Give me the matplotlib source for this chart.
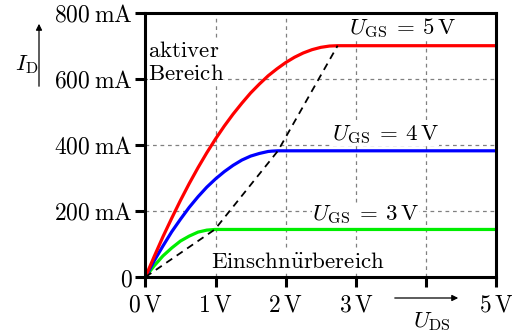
import matplotlib
matplotlib.use("Agg")
import matplotlib.pyplot as plt

plt.rcParams['mathtext.fontset'] = 'cm'
plt.rcParams['font.family'] = 'serif'

# Output characteristics (U_DS in V, I_D in mA)
u_5v = [0, 0.125, 0.25, 0.375, 0.5, 0.625, 0.75, 0.875, 1.0, 1.125, 1.25, 1.375, 1.5, 1.625,
        1.75, 1.875, 2.0, 2.125, 2.25, 2.375, 2.5, 2.625, 2.74, 5.0]
i_5v = [0, 62, 122, 178, 232, 283, 331, 376, 418, 457, 493, 526, 557, 584,
        609, 630, 649, 665, 678, 688, 695, 699, 700, 700]

u_4v = [0, 0.125, 0.25, 0.375, 0.5, 0.625, 0.75, 0.875, 1.0, 1.125, 1.25, 1.375, 1.5, 1.625,
        1.75, 1.8, 1.89, 5.0]
i_4v = [0, 49, 94, 137, 175, 211, 243, 272, 297, 319, 338, 354, 366, 374,
        380, 381, 382, 382]

u_3v = [0, 0.125, 0.25, 0.375, 0.5, 0.625, 0.75, 0.875, 0.99, 5.0]
i_3v = [0, 34, 64, 88, 109, 124, 136, 142, 144, 144]

# pinch-off boundary
u_sat = [0, 0.99, 1.89, 2.74]
i_sat = [0, 144, 382, 700]

x_ticks = [0, 1, 2, 3, 4, 5]
x_labels = [r'$0\,\mathrm{V}$', r'$1\,\mathrm{V}$', r'$2\,\mathrm{V}$', r'$3\,\mathrm{V}$', '', r'$5\,\mathrm{V}$']
y_ticks = [0, 200, 400, 600, 800]
y_labels = [r'$0$', r'$200\:\mathrm{mA}$', r'$400\:\mathrm{mA}$', r'$600\:\mathrm{mA}$', r'$800\:\mathrm{mA}$']

fs = 16.5

fig = plt.figure(figsize=(5.12, 3.33), dpi=100)
ax = fig.add_axes([0.284, 0.168, 0.685, 0.794])

ax.set_xlim(0, 5)
ax.set_ylim(0, 800)
ax.set_xticks(x_ticks)
ax.set_xticklabels(x_labels, fontsize=fs + 0.5)
ax.set_yticks(y_ticks)
ax.set_yticklabels(y_labels, fontsize=fs + 0.5)
ax.tick_params(direction='out', length=7, width=2.2)
ax.tick_params(axis='x', pad=5)
ax.tick_params(axis='y', pad=2)

for s in ax.spines.values():
    s.set_linewidth(2.2)

# grid only inside
for xv in x_ticks[1:-1]:
    ax.axvline(xv, color='gray', linestyle=(0, (3, 3)), linewidth=0.9, zorder=0)
for yv in y_ticks[1:-1]:
    ax.axhline(yv, color='gray', linestyle=(0, (3, 3)), linewidth=0.9, zorder=0)

ax.plot(u_sat, i_sat, color='black', linestyle=(0, (4, 3)), linewidth=1.3, zorder=3)
ax.plot(u_3v, i_3v, color='#00ee00', linewidth=2.3, zorder=2)
ax.plot(u_4v, i_4v, color='blue', linewidth=2.3, zorder=2)
ax.plot(u_5v, i_5v, color='red', linewidth=2.3, zorder=2)

box = dict(facecolor='white', edgecolor='none', pad=0)
ax.text(0.03, 650, '$\\mathrm{aktiver}$\n$\\mathrm{Bereich}$', fontsize=fs, ha='left', va='center',
        linespacing=1.05, bbox=box, zorder=1)
ax.text(2.17, 45, r'$\mathrm{Einschn\ddot{u}rbereich}$', fontsize=fs, ha='center', va='center', bbox=box, zorder=1)
ax.text(2.9, 754, r'$U_{\mathrm{GS}}\:=\:5\,\mathrm{V}$', fontsize=fs, ha='left', va='center', bbox=box, zorder=1)
ax.text(2.66, 430, r'$U_{\mathrm{GS}}\:=\:4\,\mathrm{V}$', fontsize=fs, ha='left', va='center', bbox=box, zorder=1)
ax.text(2.38, 188, r'$U_{\mathrm{GS}}\:=\:3\,\mathrm{V}$', fontsize=fs, ha='left', va='center', bbox=box, zorder=1)

# axis labels with arrows
fig.text(27 / 512, 1 - 65 / 333, r'$I_{\mathrm{D}}$', fontsize=fs, ha='center', va='center')
fig.patches.append(matplotlib.patches.FancyArrowPatch((39 / 512, 1 - 89 / 333), (39 / 512, 1 - 21 / 333),
                   transform=fig.transFigure, arrowstyle='-|>', mutation_scale=9, linewidth=0.9, color='black'))
fig.text(432 / 512, 1 - 322 / 333, r'$U_{\mathrm{DS}}$', fontsize=fs, ha='center', va='center')
fig.patches.append(matplotlib.patches.FancyArrowPatch((392 / 512, 1 - 298 / 333), (461 / 512, 1 - 298 / 333),
                   transform=fig.transFigure, arrowstyle='-|>', mutation_scale=9, linewidth=0.9, color='black'))

fig.savefig('out.png', dpi=100)
